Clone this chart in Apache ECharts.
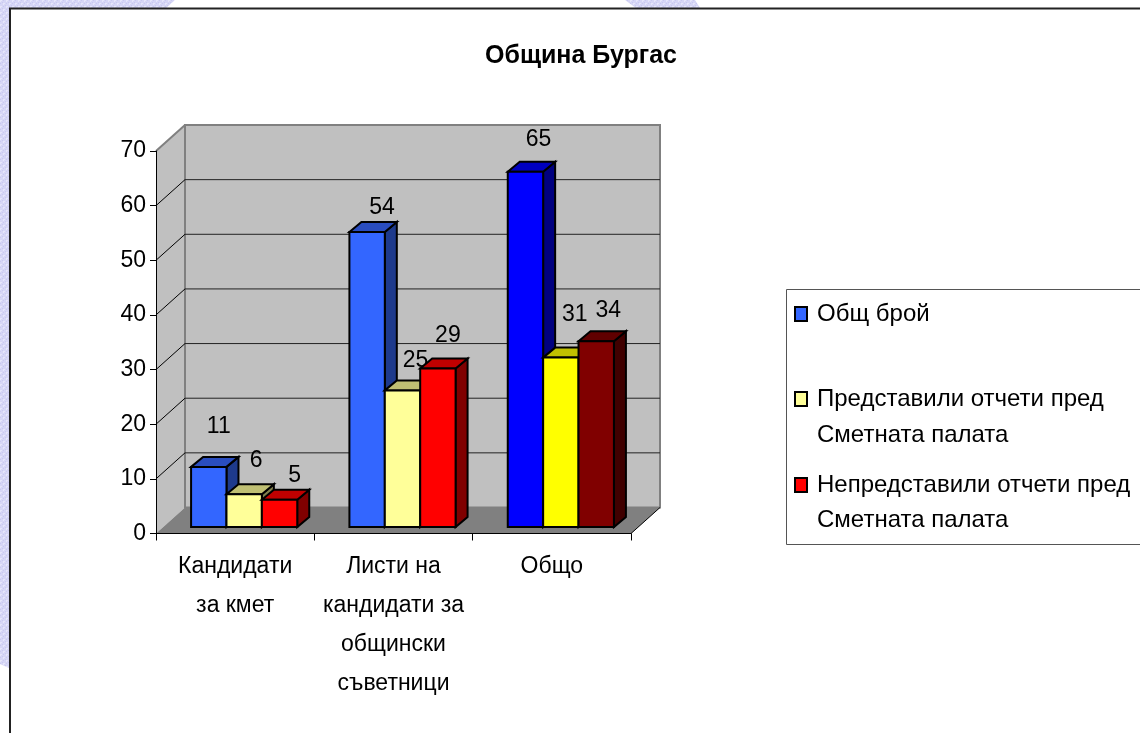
<!DOCTYPE html>
<html><head><meta charset="utf-8">
<style>html,body{margin:0;padding:0;background:#fff}#c{width:1140px;height:733px}</style>
<script src="https://cdn.jsdelivr.net/npm/echarts@6/dist/echarts.min.js"></script>
</head><body><div id="c"></div>
<script>
const titleText = 'Община Бургас';
const categories = ['Кандидати\nза кмет', 'Листи на\nкандидати за\nобщински\nсъветници', 'Общо'];
const seriesNames = ['Общ брой', 'Представили отчети пред\nСметната палата', 'Непредставили отчети пред\nСметната палата'];
const totalValues = [11, 54, 65];
const filedValues = [6, 25, 31];
const notFiledValues = [5, 29, 34];
const yTicks = [0, 10, 20, 30, 40, 50, 60, 70];

// Styling (not data)
const FONT = '"Liberation Sans", Arial, sans-serif';
const WALL = {dx: 29, dy: -26};
const BAR = {dx: 12, dy: -10, shiftX: 9, shiftY: -6.5, widthRatio: 0.2235};
const palette = [
  [{f:'#3366FF',t:'#2A4DBF',s:'#1E3A8C'},{f:'#3366FF',t:'#2A4DBF',s:'#1E3A8C'},{f:'#0000FF',t:'#0000C0',s:'#000080'}],
  [{f:'#FFFF99',t:'#BFBF73',s:'#80804D'},{f:'#FFFF99',t:'#BFBF73',s:'#80804D'},{f:'#FFFF00',t:'#C0C000',s:'#808000'}],
  [{f:'#FF0000',t:'#C00000',s:'#800000'},{f:'#FF0000',t:'#C00000',s:'#800000'},{f:'#800000',t:'#600000',s:'#400000'}]
];
const labelNudge = [
  [[10,-40],[15,-24],[13,-32]],
  [[12,-34],[13,-30],[14,-43]],
  [[15,-24],[10,-33],[12,-31]]
];

function patternCanvas(){
  const c = document.createElement('canvas'); c.width = c.height = 6;
  const g = c.getContext('2d');
  g.fillStyle = '#D6D6F6'; g.fillRect(0,0,6,6);
  g.fillStyle = '#E6E6FB';
  [[0,0],[3,3],[1,0],[0,1],[4,3],[3,4]].forEach(p=>g.fillRect(p[0],p[1],1,1));
  g.fillStyle = '#C9C9F0';
  [[3,0],[0,3],[2,2],[5,5]].forEach(p=>g.fillRect(p[0],p[1],1,1));
  return c;
}
const pat = {image: patternCanvas(), repeat: 'repeat'};

const chart = echarts.init(document.getElementById('c'), null, {renderer:'canvas'});

function renderWalls(params, api){
  const v = api.value(0);
  const a = api.coord([0, 0]), b = api.coord([2, 70]);
  const band = api.size([1,0])[0];
  const x0 = a[0] - band/2, x1 = b[0] + band/2, y0 = a[1], y1 = b[1];
  const d = WALL;
  if (params.dataIndex === 0) {
    return {type:'group', children:[
      {type:'polygon', shape:{points:[[x0,y0],[x0,y1],[x0+d.dx,y1+d.dy],[x0+d.dx,y0+d.dy]]}, style:{fill:'#C0C0C0',stroke:null}},
      {type:'rect', shape:{x:x0+d.dx,y:y1+d.dy,width:x1-x0,height:y0-y1}, style:{fill:'#C0C0C0',stroke:'#808080',lineWidth:2}},
      {type:'polygon', shape:{points:[[x0,y0],[x1,y0],[x1+d.dx,y0+d.dy],[x0+d.dx,y0+d.dy]]}, style:{fill:'#808080',stroke:null}},
      {type:'line', shape:{x1:x0,y1:y1,x2:x0+d.dx,y2:y1+d.dy}, style:{stroke:'#808080',lineWidth:2}},
      {type:'line', shape:{x1:x1,y1:y0,x2:x1+d.dx,y2:y0+d.dy}, style:{stroke:'#000',lineWidth:1}}
    ]};
  }
  const y = api.coord([0, v])[1];
  if (v === 70) return {type:'group', children:[]};
  return {type:'group', children:[
    {type:'line', shape:{x1:x0,y1:y,x2:x0+d.dx,y2:y+d.dy}, style:{stroke:'#000',lineWidth:1}},
    {type:'line', shape:{x1:x0+d.dx,y1:y+d.dy,x2:x1+d.dx,y2:y+d.dy}, style:{stroke:'#222',lineWidth:1}}
  ]};
}

function renderBar(s){
  return function(params, api){
    const cat = api.value(0), val = api.value(1);
    const band = api.size([1,0])[0];
    const w = band * BAR.widthRatio;
    const p = api.coord([cat, val]), base = api.coord([cat, 0]);
    const x = p[0] + BAR.shiftX + (s - 1.5) * w;
    const t = p[1] + BAR.shiftY, b = base[1] + BAR.shiftY;
    const c = palette[s][cat], dx = BAR.dx, dy = BAR.dy;
    const st = (fill)=>({fill:fill,stroke:'#000',lineWidth:2,lineJoin:'miter'});
    const n = labelNudge[s][cat];
    return {type:'group', children:[
      {type:'polygon', shape:{points:[[x+w,t],[x+w+dx,t+dy],[x+w+dx,b+dy],[x+w,b]]}, style:st(c.s)},
      {type:'polygon', shape:{points:[[x,t],[x+dx,t+dy],[x+w+dx,t+dy],[x+w,t]]}, style:st(c.t)},
      {type:'rect', shape:{x:x,y:t,width:w,height:b-t}, style:st(c.f)},
      {type:'text', z2:50, style:{x:x+w/2+n[0], y:t+n[1], text:String(val), fill:'#000', font:'23px '+FONT, align:'center', verticalAlign:'middle'}}
    ]};
  };
}

function barData(vals){ return vals.map((v,i)=>[i,v]); }
const barValues = [totalValues, filedValues, notFiledValues];

const legendTops = [313, 398, 484];
const option = {
  animation:false,
  backgroundColor:'#fff',
  title:{text:titleText, left:576, top:39, textAlign:'center',
    textStyle:{fontFamily:FONT, fontWeight:'bold', fontSize:25, color:'#000'}},
  grid:{left:156, right:509, top:151, bottom:199.5, containLabel:false},
  xAxis:{type:'category', data:categories, position:'bottom',
    axisLine:{show:true,lineStyle:{color:'#000',width:1}},
    axisTick:{show:true,alignWithLabel:false,length:7,lineStyle:{color:'#000'}},
    axisLabel:{show:true,interval:0,fontFamily:FONT,fontSize:23,color:'#000',lineHeight:39,margin:14},
    splitLine:{show:false}},
  yAxis:{type:'value', min:0, max:70, interval:10,
    axisLine:{show:true,lineStyle:{color:'#000',width:1}},
    axisTick:{show:true,length:6,lineStyle:{color:'#000'}},
    axisLabel:{show:true,fontFamily:FONT,fontSize:23,color:'#000',margin:10},
    splitLine:{show:false}},
  legend: seriesNames.map((name,i)=>({
    data:[name], left:794, top:legendTops[i]-11, orient:'vertical', icon:'rect', itemWidth:12, itemHeight:14, itemGap:0, padding:0,
    selectedMode:false,
    formatter:(n)=>n.split('\n')[0],
    textStyle:{fontFamily:FONT,fontSize:24,color:'#000',padding:[0,0,0,5]}
  })),
  graphic:[
    {type:'polygon',z:-10,shape:{points:[[0,0],[175,0],[165,9],[9,9],[9,668],[0,664]]},style:{fill:pat}},
    {type:'polygon',z:-10,shape:{points:[[625,0],[695,0],[700,8],[636,8]]},style:{fill:pat}},
    {type:'rect',z:-9,shape:{x:10,y:8.5,width:1200,height:800},style:{fill:'#fff',stroke:'#222',lineWidth:2}},
    {type:'rect',z:-8,shape:{x:786.5,y:289.5,width:400,height:255},style:{fill:'#fff',stroke:'#555',lineWidth:1}},
    {type:'text',z:10,style:{x:817,y:435,text:seriesNames[1].split('\n')[1],fill:'#000',font:'24px '+FONT,verticalAlign:'middle'}},
    {type:'text',z:10,style:{x:817,y:520,text:seriesNames[2].split('\n')[1],fill:'#000',font:'24px '+FONT,verticalAlign:'middle'}}
  ],
  series:[
    {type:'custom', name:'walls', silent:true, z:0, renderItem:renderWalls, data:yTicks.map(v=>[v]), encode:{y:0}, clip:false, tooltip:{show:false}},
    ...seriesNames.map((n,s)=>({
      type:'custom', name:n, z:s+2, clip:false, renderItem:renderBar(s),
      data:barData(barValues[s]), encode:{x:0,y:1},
      itemStyle:{color:palette[s][0].f, borderColor:'#000', borderWidth:2}
    }))
  ]
};
chart.setOption(option);
</script></body></html>
